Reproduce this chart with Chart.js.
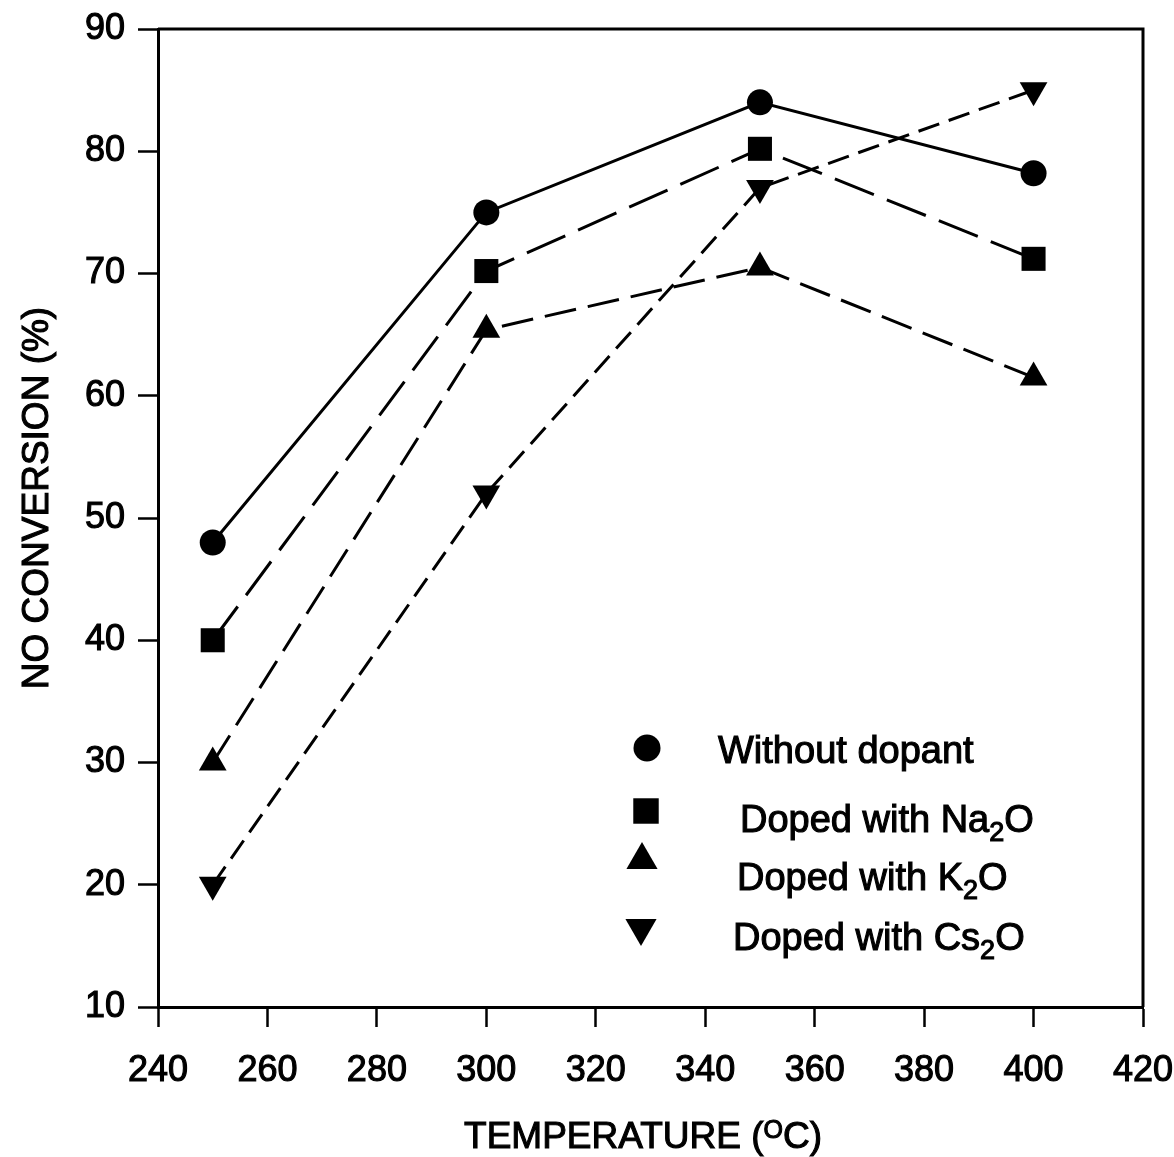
<!DOCTYPE html>
<html>
<head>
<meta charset="utf-8">
<script src="https://cdn.jsdelivr.net/npm/chart.js@4.4.1/dist/chart.umd.min.js"></script>
<style>
  html, body { margin: 0; padding: 0; background: #fff; }
  canvas { display: block; }
</style>
</head>
<body>
<canvas id="chart" width="1174" height="1157"></canvas>
<script>
// values
const temperatures = [250, 300, 350, 400];
const withoutDopant = [48, 75, 84, 78.2];
const dopedNa2O = [40, 70.2, 80.2, 71.2];
const dopedK2O = [30, 65.4, 70.5, 61.5];
const dopedCs2O = [20, 52, 77, 85];
const seriesNames = ['Without dopant', 'Doped with Na₂O', 'Doped with K₂O', 'Doped with Cs₂O'];
const xTickValues = [240, 260, 280, 300, 320, 340, 360, 380, 400, 420];
const yTickValues = [10, 20, 30, 40, 50, 60, 70, 80, 90];

const FONT = "'Liberation Sans', Arial, sans-serif";
const STROKE = 1.1;

const styles = [
    { pointStyle: 'circle', radius: 13, rotation: 0, dash: [] },
    { pointStyle: 'rect', radius: 17, rotation: 0, dash: [42, 14] },
    { pointStyle: 'triangle', radius: 16, rotation: 0, dash: [32, 12] },
    { pointStyle: 'triangle', radius: 16, rotation: 180, dash: [22, 10] }
];

function makeDataset(name, values, st) {
    return {
        label: name,
        data: temperatures.map((t, i) => ({ x: t, y: values[i] })),
        borderColor: '#000',
        backgroundColor: '#000',
        borderWidth: 3,
        borderDash: st.dash,
        pointStyle: st.pointStyle,
        pointRadius: st.radius,
        pointRotation: st.rotation,
        pointBorderWidth: 0,
        pointBackgroundColor: '#000',
        tension: 0,
        fill: false
    };
}

function put(ctx, text, x, y) {
    ctx.fillText(text, x, y);
    ctx.strokeText(text, x, y);
}

// draws text where "₂" becomes a subscript 2
function drawRichText(ctx, text, x, y, size) {
    const parts = text.split('₂');
    let cx = x;
    parts.forEach((p, i) => {
        ctx.font = size + 'px ' + FONT;
        put(ctx, p, cx, y);
        cx += ctx.measureText(p).width;
        if (i < parts.length - 1) {
            ctx.font = Math.round(size * 0.7) + 'px ' + FONT;
            put(ctx, '2', cx, y + size * 0.24);
            cx += ctx.measureText('2').width;
        }
    });
}

const legendRows = [
    { mx: 647, my: 748, tx: 718, ty: 763 },
    { mx: 646, my: 811, tx: 740, ty: 832 },
    { mx: 642, my: 860, tx: 737, ty: 890 },
    { mx: 641, my: 928, tx: 733, ty: 950 }
];

const decorations = {
    id: 'decorations',
    beforeDatasetsDraw(chart) {
        const { ctx, chartArea: a } = chart;
        ctx.save();
        ctx.strokeStyle = '#000';
        ctx.lineWidth = 3;
        ctx.beginPath();
        ctx.moveTo(a.left, a.top);
        ctx.lineTo(a.right, a.top);
        ctx.lineTo(a.right, a.bottom);
        ctx.stroke();
        ctx.restore();
    },
    afterDraw(chart) {
        const ctx = chart.ctx;
        ctx.save();
        ctx.fillStyle = '#000';
        ctx.strokeStyle = '#000';
        ctx.lineWidth = STROKE;

        // y title
        ctx.save();
        ctx.translate(38, 498);
        ctx.rotate(-Math.PI / 2);
        ctx.font = '37px ' + FONT;
        ctx.textAlign = 'center';
        ctx.textBaseline = 'middle';
        put(ctx, 'NO CONVERSION (%)', 0, 0);
        ctx.restore();

        // x title with superscript O
        ctx.textBaseline = 'alphabetic';
        ctx.textAlign = 'left';
        const a = 'TEMPERATURE (', sup = 'O', b = 'C)';
        ctx.font = '37px ' + FONT;
        const wa = ctx.measureText(a).width, wb = ctx.measureText(b).width;
        ctx.font = '25px ' + FONT;
        const ws = ctx.measureText(sup).width;
        let x = 643 - (wa + ws + wb) / 2;
        const base = 1148;
        ctx.font = '37px ' + FONT;
        put(ctx, a, x, base);
        x += wa;
        ctx.font = '25px ' + FONT;
        put(ctx, sup, x, base - 10);
        x += ws;
        ctx.font = '37px ' + FONT;
        put(ctx, b, x, base);

        // legend
        legendRows.forEach((r, i) => {
            const st = styles[i];
            Chart.helpers.drawPoint(ctx, {
                pointStyle: st.pointStyle,
                radius: st.pointStyle === 'circle' ? 13.5 : 18,
                rotation: st.rotation,
                borderWidth: 0
            }, r.mx, r.my);
            ctx.textAlign = 'left';
            ctx.lineWidth = STROKE;
            drawRichText(ctx, seriesNames[i], r.tx, r.ty, 38);
        });
        ctx.restore();
    }
};

const tickFont = { family: FONT, size: 36 };

new Chart(document.getElementById('chart'), {
    type: 'line',
    data: {
        datasets: [
            makeDataset(seriesNames[0], withoutDopant, styles[0]),
            makeDataset(seriesNames[1], dopedNa2O, styles[1]),
            makeDataset(seriesNames[2], dopedK2O, styles[2]),
            makeDataset(seriesNames[3], dopedCs2O, styles[3])
        ]
    },
    options: {
        responsive: false,
        animation: false,
        devicePixelRatio: 1,
        layout: { padding: { top: 29, right: 31, left: 0, bottom: 0 } },
        plugins: {
            legend: { display: false },
            tooltip: { enabled: false }
        },
        scales: {
            x: {
                type: 'linear',
                min: 240,
                max: 420,
                afterBuildTicks: s => { s.ticks = xTickValues.map(v => ({ value: v })); },
                afterFit: s => { s.height = 150; s.paddingLeft = 0; s.paddingRight = 0; },
                ticks: { color: '#000', font: tickFont, padding: 22, maxRotation: 0, autoSkip: false,
                         textStrokeColor: '#000', textStrokeWidth: STROKE },
                grid: { drawOnChartArea: false, drawTicks: true, tickLength: 20, tickWidth: 2.5, tickColor: '#000' },
                border: { display: true, color: '#000', width: 3 }
            },
            y: {
                type: 'linear',
                min: 10,
                max: 90,
                afterBuildTicks: s => { s.ticks = yTickValues.map(v => ({ value: v })); },
                afterFit: s => { s.width = 158; s.paddingTop = 0; s.paddingBottom = 0; },
                ticks: { color: '#000', font: tickFont, padding: 13, autoSkip: false,
                         textStrokeColor: '#000', textStrokeWidth: STROKE },
                grid: { drawOnChartArea: false, drawTicks: true, tickLength: 20, tickWidth: 2.5, tickColor: '#000' },
                border: { display: true, color: '#000', width: 3 }
            }
        }
    },
    plugins: [decorations]
});
</script>
</body>
</html>
